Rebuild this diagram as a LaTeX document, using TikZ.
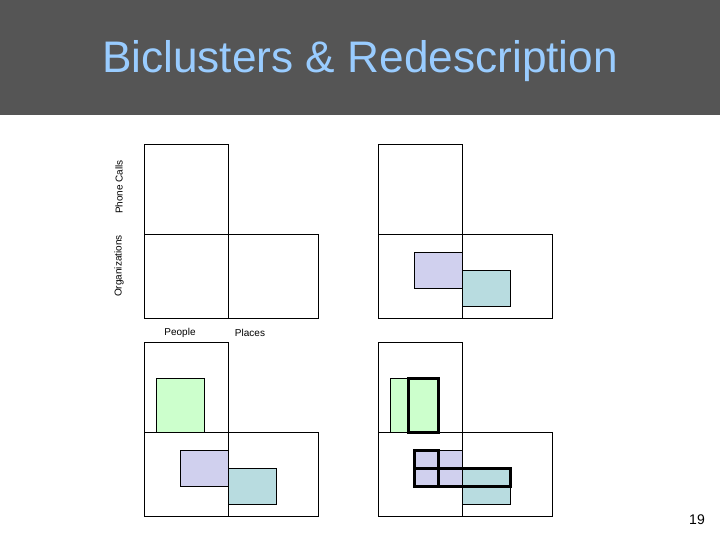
\documentclass[tikz,border=0pt]{standalone}
\usepackage{fontspec}
\setmainfont{Liberation Sans}
\definecolor{hdr}{RGB}{85,85,85}
\definecolor{ttl}{RGB}{153,204,255}
\definecolor{gr}{RGB}{204,255,204}
\definecolor{pu}{RGB}{208,208,238}
\definecolor{te}{RGB}{184,220,224}
\tikzset{
  cell/.style={draw=black, line width=1pt},
  blk/.style={draw=black, line width=1pt},
  thick box/.style={draw=black, line width=3pt},
  lbl/.style={font=\fontsize{10}{12}\selectfont, inner sep=0pt}
}
\begin{document}
\begin{tikzpicture}[x=1pt,y=-1pt]
\useasboundingbox (0,0) rectangle (720,540);
\fill[white] (0,0) rectangle (720,540);
\fill[hdr] (0,0) rectangle (720,115);
\node[text=ttl, font=\fontsize{44.2}{50}\selectfont, anchor=base] (title) at (360,72.7) {Biclusters \& Redescription};

% Panel 1
\draw[cell] (144.3,144.3) rectangle (228.3,234.3);
\draw[cell] (144.3,234.3) rectangle (228.3,318.3);
\draw[cell] (228.3,234.3) rectangle (318.3,318.3);
\node[lbl, rotate=90] (pc) at (119,187) {Phone Calls};
\node[lbl, rotate=90] (org) at (119,266) {Organizations};
\node[lbl] (people) at (180,333) {People};
\node[lbl] (places) at (250,333) {Places};

% Panel 2
\draw[cell] (378.3,144.3) rectangle (462.3,234.3);
\draw[cell] (378.3,234.3) rectangle (462.3,318.3);
\draw[cell] (462.3,234.3) rectangle (552.5,318.3);
\filldraw[blk, fill=pu] (414.3,252.3) rectangle (462.3,288);
\filldraw[blk, fill=te] (462.3,270.3) rectangle (510.3,306);

% Panel 3
\draw[cell] (144.3,342.7) rectangle (228.3,432.3);
\draw[cell] (144.3,432.3) rectangle (228.3,516);
\draw[cell] (228.3,432.3) rectangle (318.3,516);
\filldraw[blk, fill=gr] (156.3,378.3) rectangle (204.3,432.3);
\filldraw[blk, fill=pu] (180.3,450.3) rectangle (228.3,486);
\filldraw[blk, fill=te] (228.3,468.3) rectangle (276.3,504);

% Panel 4
\draw[cell] (378.3,342.7) rectangle (462.3,432.3);
\draw[cell] (378.3,432.3) rectangle (462.3,516);
\draw[cell] (462.3,432.3) rectangle (552.3,516);
\filldraw[blk, fill=gr] (390.3,378.3) rectangle (438.3,432.3);
\filldraw[blk, fill=pu] (414.3,450.3) rectangle (462.3,486);
\filldraw[blk, fill=te] (462.3,468.3) rectangle (510.3,504);
\draw[thick box] (408.3,378) rectangle (438.3,432.3);
\draw[thick box] (414.3,450.3) rectangle (438.3,486);
\draw[thick box] (414.3,468.3) rectangle (510.3,486);

\node[font=\fontsize{14}{16}\selectfont] (page) at (697,520) {19};
\end{tikzpicture}
\end{document}
